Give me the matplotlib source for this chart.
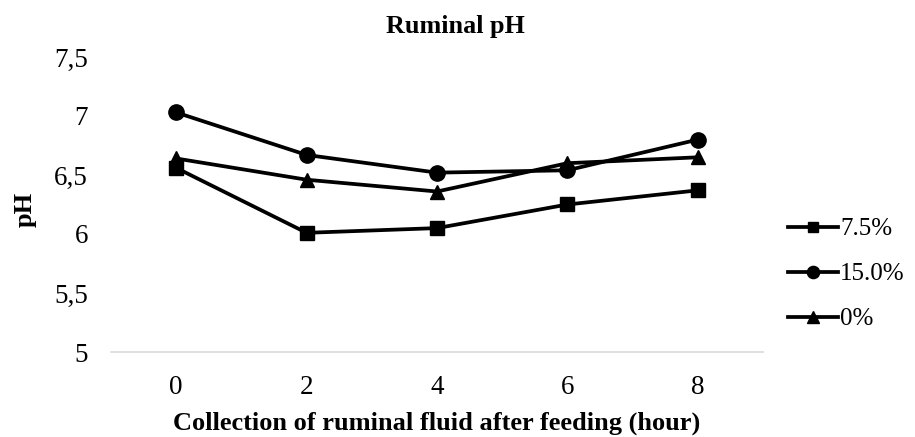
import numpy as np
import matplotlib
matplotlib.use("Agg")
import matplotlib.pyplot as plt

plt.rcParams['font.family'] = ['Liberation Serif', 'DejaVu Serif']

hours = ['0', '2', '4', '6', '8']
ph_75 = [6.56, 6.01, 6.05, 6.25, 6.37]
ph_150 = [7.03, 6.67, 6.52, 6.54, 6.80]
ph_0 = [6.64, 6.46, 6.36, 6.60, 6.65]
yticks = [5, 5.5, 6, 6.5, 7, 7.5]
ytick_labels = ['5', '5,5', '6', '6,5', '7', '7,5']

fig = plt.figure(figsize=(9.15, 4.37), dpi=100)
ax = fig.add_axes([111/915, 1-352/437, (763-111)/915, (352-57)/437])

x = np.arange(len(hours))
ax.plot(x, ph_75, color='black', lw=2.7, marker='s', ms=9.5, label='7.5%')
ax.plot(x, ph_150, color='black', lw=2.7, marker='o', ms=11, label='15.0%')
ax.plot(x, ph_0, color='black', lw=2.7, marker='^', ms=10.5, label='0%')

ax.set_xlim(-0.5, len(hours) - 0.5)
ax.set_ylim(5, 7.5)
ax.set_xticks(x)
ax.set_xticklabels(hours)
ax.set_yticks(yticks)
ax.set_yticklabels(ytick_labels)
ax.tick_params(length=0, labelsize=19.5)
ax.tick_params(axis='x', pad=16.5)
ax.tick_params(axis='y', pad=16.5)
for s in ['top', 'right', 'left']:
    ax.spines[s].set_visible(False)
ax.spines['bottom'].set_color('#d9d9d9')
ax.spines['bottom'].set_linewidth(1.2)

fig.text(437/915, 1-423/437, 'Collection of ruminal fluid after feeding (hour)',
         fontsize=19, fontweight='bold', ha='center', va='center')
fig.text(25/915, 1-209/437, 'pH', rotation=90, fontsize=19, fontweight='bold',
         ha='center', va='center')
fig.text(455/915, 1-27/437, 'Ruminal pH', fontsize=18.8, fontweight='bold',
         ha='center', va='center')

leg = fig.legend(loc='center left', bbox_to_anchor=(765/915, 1-274/437),
                 frameon=False, fontsize=18, handlelength=2.0, handletextpad=0.1,
                 labelspacing=0.9, markerscale=0.8)

fig.savefig('out.png', dpi=100)
